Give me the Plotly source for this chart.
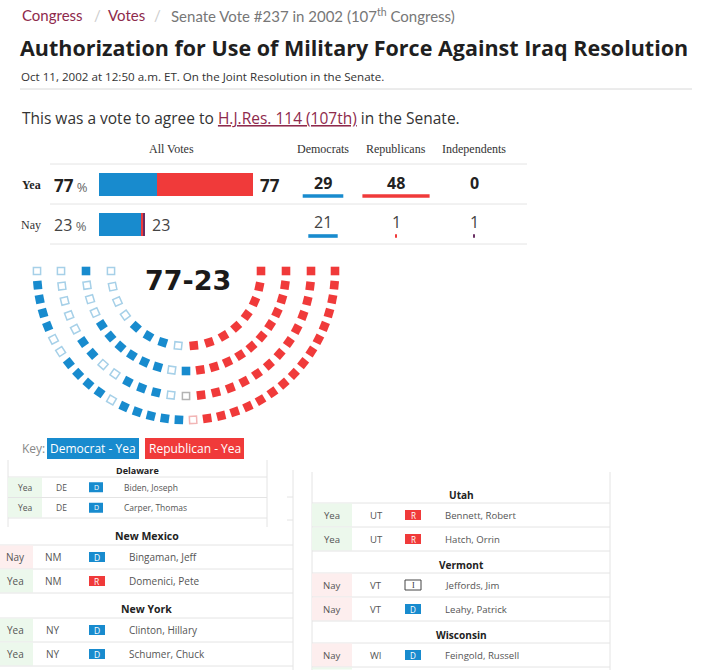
import math
import plotly.graph_objects as go

# ---------------- data ----------------
parties = ["Democrats", "Republicans", "Independents"]
yea_votes = [29, 48, 0]
nay_votes = [21, 1, 1]
vote_rows = ["Yea", "Nay"]

# seat map, left to right, innermost row first
# B = Dem yea, b = Dem nay, R = Rep yea, r = Rep nay, i = Ind nay
seat_row_1 = "bbbbBBBbRRRRRRRR"
seat_row_2 = "BbbbBBBBBBbBRRRRRRRRRRR"
seat_row_3 = "bbbbbBBbbBBBbiRRRRRRRRRRRRR"
seat_row_4 = "bBBBBbbBBBBbBBBBBrRRRRRRRRRRRRRRRR"
seat_rows = [seat_row_1, seat_row_2, seat_row_3, seat_row_4]

key_labels = ["Democrat - Yea", "Republican - Yea"]

panel_a_rows = [("h", "Delaware"),
                ("s", "Yea", "DE", "D", "Biden, Joseph"),
                ("s", "Yea", "DE", "D", "Carper, Thomas")]
panel_b_rows = [("h", "New Mexico"),
                ("s", "Nay", "NM", "D", "Bingaman, Jeff"),
                ("s", "Yea", "NM", "R", "Domenici, Pete"),
                ("h", "New York"),
                ("s", "Yea", "NY", "D", "Clinton, Hillary"),
                ("s", "Yea", "NY", "D", "Schumer, Chuck")]
panel_c_rows = [("h", "Utah"),
                ("s", "Yea", "UT", "R", "Bennett, Robert"),
                ("s", "Yea", "UT", "R", "Hatch, Orrin"),
                ("h", "Vermont"),
                ("s", "Nay", "VT", "I", "Jeffords, Jim"),
                ("s", "Nay", "VT", "D", "Leahy, Patrick"),
                ("h", "Wisconsin"),
                ("s", "Nay", "WI", "D", "Feingold, Russell"),
                ("s", "Yea", "WI", "D", "Kohl, Herb")]

# ---------------- styles ----------------
W, H = 702, 670
BLUE = "#188bce"
RED = "#f03a3a"
IND = "#6a2f63"
MAROON = "#8e2a4c"
SANS = "Open Sans, Roboto, sans-serif"
TITLEF = "Open Sans, sans-serif"
SERIF = "Liberation Serif, DejaVu Serif, serif"
LINE = "#e4e4e4"
party_col = {"D": BLUE, "R": RED, "I": IND}

fig = go.Figure()
ann = []
shp = []


def txt(x, y, s, size, color="#333", family=SANS, xanchor="left", yanchor="middle"):
    ann.append(dict(x=x, y=y, xref="x", yref="y", text=s, showarrow=False,
                    xanchor=xanchor, yanchor=yanchor, borderpad=0,
                    font=dict(size=size, color=color, family=family)))


def rect(x0, y0, x1, y1, fill, line=None, lw=0):
    shp.append(dict(type="rect", xref="x", yref="y", x0=x0, y0=y0, x1=x1, y1=y1,
                    fillcolor=fill, line=dict(color=line or fill, width=lw), layer="below"))


def hline(x0, x1, y, color=LINE, w=1):
    shp.append(dict(type="line", xref="x", yref="y", x0=x0, x1=x1, y0=y, y1=y,
                    line=dict(color=color, width=w), layer="below"))


def vline(x, y0, y1, color=LINE, w=1):
    shp.append(dict(type="line", xref="x", yref="y", x0=x, x1=x, y0=y0, y1=y1,
                    line=dict(color=color, width=w), layer="below"))


# page frame axis (pixel coordinates)
fig.add_trace(go.Scatter(x=[0], y=[0], mode="markers", marker=dict(opacity=0),
                         hoverinfo="skip", showlegend=False))

# ---------------- header ----------------
txt(21, 15, "Congress", 15, MAROON, "Lato, sans-serif")
txt(97, 15, "/", 15, "#cccccc", "Lato, sans-serif", "center")
txt(107, 15, "Votes", 15, MAROON, "Lato, sans-serif")
txt(157, 15, "/", 15, "#cccccc", "Lato, sans-serif", "center")
txt(170, 15, "Senate Vote #237 in 2002 (107<sup>th</sup> Congress)", 15, "#777777", "Lato, sans-serif")
txt(19, 47, "<b>Authorization for Use of Military Force Against Iraq Resolution</b>", 21.5, "#1f1f1f", TITLEF)
txt(20, 76, "Oct 11, 2002 at 12:50 a.m. ET. On the Joint Resolution in the Senate.", 11.6, "#333333", TITLEF)
hline(20, 692, 89, "#d8d8d8", 1)
txt(21, 118, 'This was a vote to agree to <span style="color:%s"><u>H.J.Res. 114 (107th)</u></span> in the Senate.' % MAROON,
    15.5, "#333333", SANS)

# ---------------- vote table ----------------
yea_total = sum(yea_votes)
nay_total = sum(nay_votes)
all_total = yea_total + nay_total
txt(171, 149, "All Votes", 12, "#333", SERIF, "center")
col_x = [323, 396, 474]
for p, cx in zip(parties, col_x):
    txt(cx, 149, p, 12, "#333", SERIF, "center")
for yy in (164, 204, 244):
    hline(50, 527, yy)

txt(31, 185, "<b>Yea</b>", 12, "#222", SERIF, "center")
txt(31, 225, "Nay", 12, "#333", SERIF, "center")
txt(53, 185, '<b>%d</b><span style="font-size:13px;color:#666"> %%</span>' % round(100 * yea_total / all_total),
    17, "#222", SANS)
txt(53, 225, '%d<span style="font-size:13px;color:#666"> %%</span>' % round(100 * nay_total / all_total),
    16, "#444", SANS)
txt(259, 185, "<b>%d</b>" % yea_total, 17, "#222", SANS)
txt(151, 225, "%d" % nay_total, 16, "#444", SANS)
for i, cx in enumerate(col_x):
    txt(cx, 183, "<b>%d</b>" % yea_votes[i], 16, "#222", SANS, "center")
    txt(cx, 222, "%d" % nay_votes[i], 16, "#444", SANS, "center")

# stacked "All Votes" bars (x2/y2): 2 px per vote
colors = [BLUE, RED, IND]
base_y, base_n = 0, 0
for i in range(3):
    fig.add_trace(go.Bar(x=[yea_votes[i], nay_votes[i]], y=[0, 1], base=[base_y, base_n],
                         orientation="h", width=0.575, marker=dict(color=colors[i], line=dict(width=0)),
                         xaxis="x2", yaxis="y2", showlegend=False, hoverinfo="skip"))
    base_y += yea_votes[i]
    base_n += nay_votes[i]

# party underline bars (x3..x5 / y3): centered, 1.4 px per vote
for i in range(3):
    ax = "x%d" % (3 + i)
    fig.add_trace(go.Bar(x=[yea_votes[i], nay_votes[i]], y=[0, 1],
                         base=[-yea_votes[i] / 2, -nay_votes[i] / 2],
                         orientation="h", width=0.09, marker=dict(color=colors[i], line=dict(width=0)),
                         xaxis=ax, yaxis="y3", showlegend=False, hoverinfo="skip"))

# ---------------- parliament seat chart (x6/y6) ----------------
seat_style = {
    "B": ("square", BLUE, "Democrat - Yea"),
    "b": ("square-open", "#a6d0e8", "Democrat - Nay"),
    "R": ("square", RED, "Republican - Yea"),
    "r": ("square-open", "#f2b6b6", "Republican - Nay"),
    "i": ("square-open", "#b3b3b3", "Independent - Nay"),
}
radii = [3, 4, 5, 5.96]
pts = {k: ([], [], []) for k in seat_style}
for row, r in zip(seat_rows, radii):
    n = len(row)
    for j, code in enumerate(row):
        th = math.pi * (1 - j / (n - 1))
        pts[code][0].append(r * math.cos(th))
        pts[code][1].append(-r * math.sin(th))
        pts[code][2].append(math.degrees(th))
for code, (sym, col, name) in seat_style.items():
    xs, ys, angs = pts[code]
    fig.add_trace(go.Scatter(x=xs, y=ys, mode="markers", name=name, xaxis="x6", yaxis="y6",
                             cliponaxis=False,
                             marker=dict(symbol=sym, size=8.6 if sym == "square" else 7.2,
                                         color=col, angle=angs,
                                         line=dict(width=1.5 if sym != "square" else 0, color=col)),
                             showlegend=False, hoverinfo="skip"))
txt(188, 280, "<b>%d-%d</b>" % (yea_total, nay_total), 27, "#1a1a1a", "DejaVu Sans, sans-serif", "center")

# ---------------- key ----------------
txt(21, 448, "Key:", 12, "#888", SANS)
rect(47, 438, 139, 459, BLUE)
txt(93, 448.5, key_labels[0], 12, "white", SANS, "center")
rect(145, 438, 244, 459, RED)
txt(194.5, 448.5, key_labels[1], 12, "white", SANS, "center")


# ---------------- senator lists ----------------
def badge(x0, yc, w, h, party, fs):
    if party == "I":
        rect(x0, yc - h / 2, x0 + w, yc + h / 2, "white", "#444", 1)
        txt(x0 + w / 2, yc, "I", fs, "#333", SERIF, "center")
    else:
        rect(x0, yc - h / 2, x0 + w, yc + h / 2, party_col[party])
        txt(x0 + w / 2, yc, party, fs, "white", SANS, "center")


def panel(rows, left, right, y, head_h, row_h, fs, vote_w, vx, sx, bx, bw, nx, clip=H):
    for item in rows:
        if item[0] == "h":
            y += head_h
            txt((left + right) / 2, y - head_h * 0.38, "<b>%s</b>" % item[1], fs + 0.5, "#222", SANS, "center")
            hline(left, right, y)
        else:
            _, v, st, p, name = item
            top, bot = y, min(y + row_h, clip)
            rect(left, top + 0.5, left + vote_w, bot - 0.5, "#ecf8ec" if v == "Yea" else "#fdeeee")
            yc = y + row_h / 2
            if yc < clip - 4:
                txt(vx, yc, v, fs, "#555", SANS, "center")
                txt(sx, yc, st, fs, "#555", SANS, "center")
                badge(bx, yc, bw, 10, p, fs - 1.5)
                txt(nx, yc, name, fs, "#555", SANS)
            y += row_h
            if y <= clip:
                hline(left, right, y)
    return y


# panel A (Delaware)
vline(8, 460, 527)
vline(267, 460, 527)
panel(panel_a_rows, 8, 267, 459, 18, 20.5, 8.5, 34, 25, 61, 89, 14, 123)
# panel B (New Mexico / New York)
vline(293, 470, 670)
hline(287, 293, 497)
hline(287, 293, 520)
panel(panel_b_rows, 0, 293, 520, 25, 24, 10, 33, 15, 53, 89, 16, 128)
# panel C (Utah / Vermont / Wisconsin)
vline(312, 472, 670)
vline(610, 472, 670)
panel(panel_c_rows, 312, 610, 481, 22, 24, 9.6, 40, 332, 376, 405, 16, 444)

# ---------------- layout ----------------
def px_x(a, b):
    return [a / W, b / W]


def px_y(top, bottom):
    return [1 - bottom / H, 1 - top / H]


hidden = dict(visible=False, showgrid=False, zeroline=False, fixedrange=True)
layout = dict(
    width=W, height=H, margin=dict(l=0, r=0, t=0, b=0, pad=0),
    paper_bgcolor="white", plot_bgcolor="rgba(0,0,0,0)",
    barmode="overlay", showlegend=False,
    xaxis=dict(range=[0, W], domain=[0, 1], **hidden),
    yaxis=dict(range=[H, 0], domain=[0, 1], **hidden),
    xaxis2=dict(range=[0, 100], domain=px_x(99, 299), anchor="y2", **hidden),
    yaxis2=dict(range=[1.5, -0.5], domain=px_y(164.5, 244.5), anchor="x2", **hidden),
    yaxis3=dict(range=[1.5, -0.5], domain=px_y(176, 256), anchor="x3", **hidden),
    xaxis6=dict(range=[-7, 7], domain=px_x(11, 361), anchor="y6", **hidden),
    yaxis6=dict(range=[-7, 2], domain=px_y(221, 446), anchor="x6", **hidden),
    annotations=ann, shapes=shp,
)
for i, cx in enumerate(col_x):
    layout["xaxis%d" % (3 + i)] = dict(range=[-50 / 1.4, 50 / 1.4], domain=px_x(cx - 50, cx + 50),
                                       anchor="y3", **hidden)
fig.update_layout(**layout)
fig.write_html("out.html")
